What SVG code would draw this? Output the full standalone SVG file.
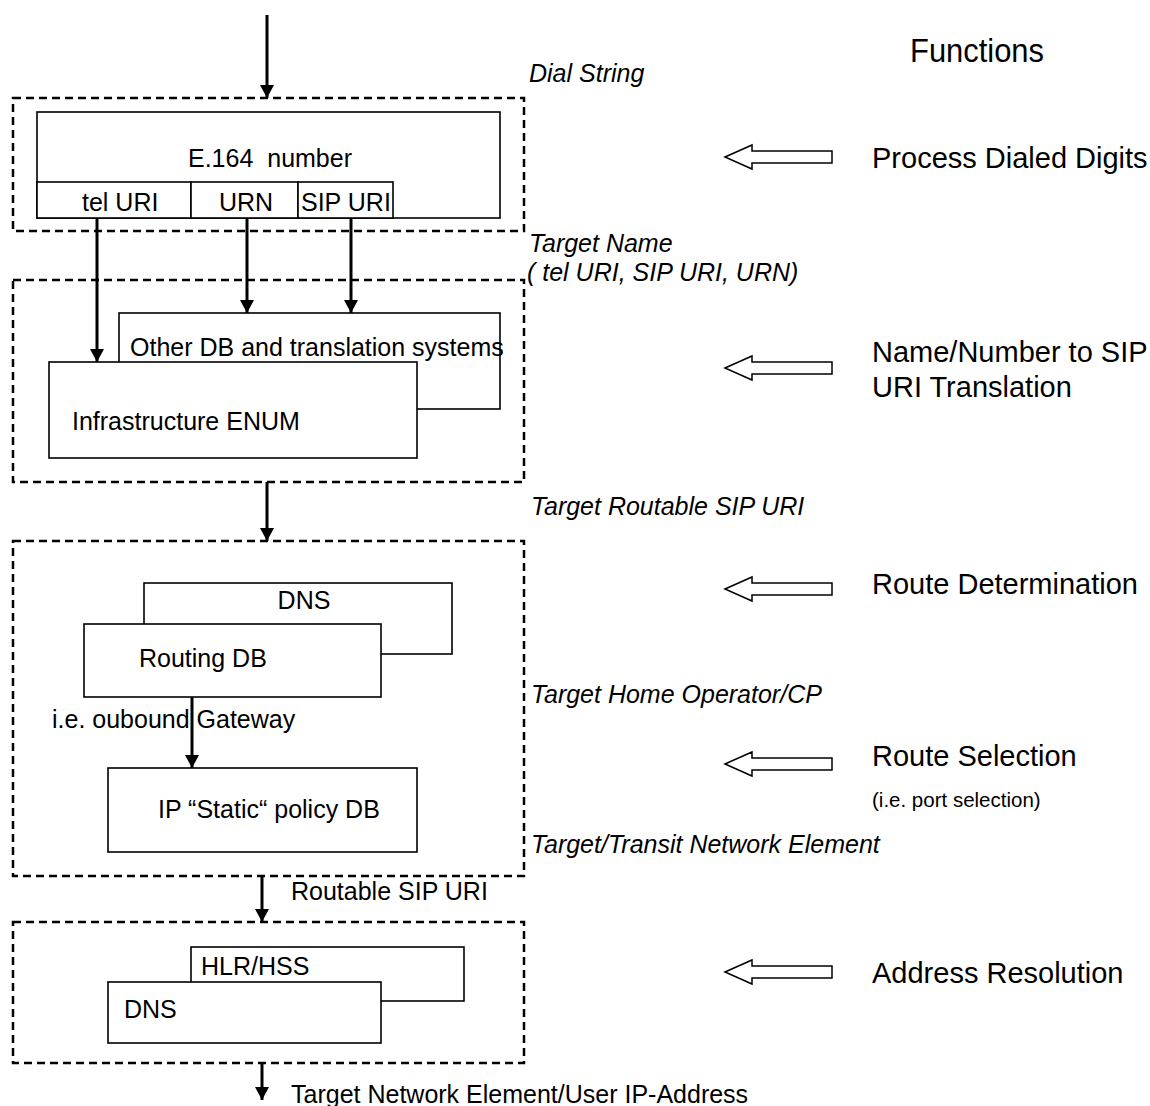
<svg xmlns="http://www.w3.org/2000/svg" width="1150" height="1106" viewBox="0 0 1150 1106">
<defs>
<marker id="ah" markerUnits="userSpaceOnUse" markerWidth="14" markerHeight="14" refX="13" refY="7" orient="auto" viewBox="0 0 14 14">
<path d="M0,0 L13,7 L0,14 Z" fill="#000"/>
</marker>
<style>
text{font-family:"Liberation Sans",Arial,sans-serif;fill:#000}
.t{font-size:25px}
.r{font-size:29px}
.i{font-size:25px;font-style:italic}
.s{font-size:20.5px}
.dash{fill:none;stroke:#000;stroke-width:2.5;stroke-dasharray:8 5}
.box{fill:#fff;stroke:#000;stroke-width:1.6}
.conn{stroke:#000;stroke-width:3;fill:none}
.hol{fill:#fff;stroke:#000;stroke-width:1.5}
</style>
</defs>
<rect width="1150" height="1106" fill="#fff"/>

<g id="title"><text x="910" y="62" style="font-size:34px" textLength="134" lengthAdjust="spacingAndGlyphs">Functions</text></g>

<g id="stage1">
<rect class="dash" x="13" y="98" width="511" height="133"/>
<rect class="box" x="37" y="112" width="463" height="106"/>
<text class="t" x="188" y="167" xml:space="preserve" style="white-space:pre">E.164  number</text>
</g>
<g id="telURI"><rect class="box" x="37" y="182" width="154" height="36"/><text class="t" x="82" y="211">tel URI</text></g>
<g id="URN"><rect class="box" x="191" y="182" width="107" height="36"/><text class="t" x="219" y="211">URN</text></g>
<g id="SIPURI"><rect class="box" x="298" y="182" width="95" height="36"/><text class="t" x="301" y="211">SIP URI</text></g>

<g id="stage2">
<rect class="dash" x="13" y="280" width="511" height="202"/>
</g>
<g id="otherDB"><rect class="box" x="119" y="313" width="381" height="96"/><text class="t" x="130" y="356">Other DB and translation systems</text></g>
<g id="enum"><rect class="box" x="49" y="362" width="368" height="96"/><text class="t" x="72" y="430">Infrastructure ENUM</text></g>

<g id="stage3">
<rect class="dash" x="13" y="541" width="511" height="335"/>
</g>
<g id="dns1"><rect class="box" x="144" y="583" width="308" height="71"/><text class="t" x="304" y="609" text-anchor="middle">DNS</text></g>
<g id="routingDB"><rect class="box" x="84" y="624" width="297" height="73"/><text class="t" x="139" y="667">Routing DB</text></g>
<g id="ipPolicy"><rect class="box" x="108" y="768" width="309" height="84"/><text class="t" x="158" y="818">IP “Static“ policy DB</text></g>
<text class="t" x="52" y="728">i.e. oubound Gateway</text>

<g id="stage4">
<rect class="dash" x="13" y="922" width="511" height="141"/>
</g>
<g id="hlr"><rect class="box" x="191" y="947" width="273" height="54"/><text class="t" x="201" y="975">HLR/HSS</text></g>
<g id="dns2"><rect class="box" x="108" y="982" width="273" height="61"/><text class="t" x="124" y="1018">DNS</text></g>

<g id="connectors">
<line class="conn" x1="267" y1="15" x2="267" y2="98" marker-end="url(#ah)"/>
<line class="conn" x1="97" y1="218" x2="97" y2="362" marker-end="url(#ah)"/>
<line class="conn" x1="247" y1="218" x2="247" y2="313" marker-end="url(#ah)"/>
<line class="conn" x1="351" y1="218" x2="351" y2="313" marker-end="url(#ah)"/>
<line class="conn" x1="267" y1="482" x2="267" y2="541" marker-end="url(#ah)"/>
<line class="conn" x1="192" y1="697" x2="192" y2="768" marker-end="url(#ah)"/>
<line class="conn" x1="262" y1="876" x2="262" y2="922" marker-end="url(#ah)"/>
<line class="conn" x1="262" y1="1063" x2="262" y2="1100" marker-end="url(#ah)"/>
</g>

<g id="labels">
<text class="i" x="529" y="82">Dial String</text>
<text class="i" x="529" y="252">Target Name</text>
<text class="i" x="527" y="281">( tel URI, SIP URI, URN)</text>
<text class="i" x="531" y="515">Target Routable SIP URI</text>
<text class="i" x="531" y="703">Target Home Operator/CP</text>
<text class="i" x="531" y="853">Target/Transit Network Element</text>
<text class="t" x="291" y="900">Routable SIP URI</text>
<text class="t" x="291" y="1103">Target Network Element/User IP-Address</text>
</g>

<g id="functions">
<path class="hol" d="M725,157 L752,145 L752,151 L832,151 L832,163 L752,163 L752,169 Z"/>
<text class="r" x="872" y="168">Process Dialed Digits</text>
<path class="hol" d="M725,368 L752,356 L752,362 L832,362 L832,374 L752,374 L752,380 Z"/>
<text class="r" x="872" y="362">Name/Number to SIP</text>
<text class="r" x="872" y="397">URI Translation</text>
<path class="hol" d="M725,589 L752,577 L752,583 L832,583 L832,595 L752,595 L752,601 Z"/>
<text class="r" x="872" y="594">Route Determination</text>
<path class="hol" d="M725,764 L752,752 L752,758 L832,758 L832,770 L752,770 L752,776 Z"/>
<text class="r" x="872" y="766">Route Selection</text>
<text class="s" x="872" y="807">(i.e. port selection)</text>
<path class="hol" d="M725,972 L752,960 L752,966 L832,966 L832,978 L752,978 L752,984 Z"/>
<text class="r" x="872" y="983">Address Resolution</text>
</g>
</svg>
